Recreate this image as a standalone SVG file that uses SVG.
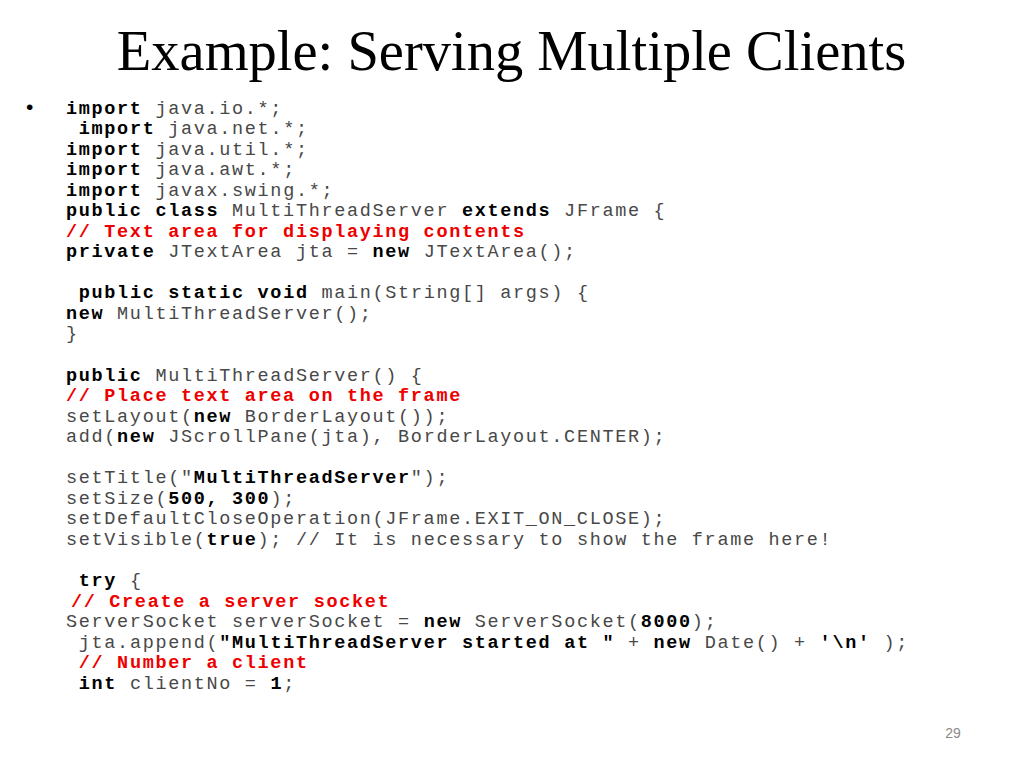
<svg xmlns="http://www.w3.org/2000/svg" width="1024" height="768" viewBox="0 0 1024 768">
<style>
.title{font-family:"Liberation Serif","Times New Roman",serif;font-size:56.5px;fill:#000}
.code{font-family:"Liberation Mono","Courier New",monospace;font-size:18.5px;letter-spacing:1.67px;fill:#484848}
.k{font-weight:bold;fill:#000}
.c{font-weight:bold;fill:#ee0000}
.bullet{font-family:"Liberation Sans",Arial,sans-serif;font-size:21px;fill:#000}
.num{font-family:"Liberation Sans",Arial,sans-serif;font-size:14px;fill:#8a8a8a}
</style>
<rect width="1024" height="768" fill="#fff"/>
<g id="title"><text class="title" x="511.5" y="70" text-anchor="middle">Example: Serving Multiple Clients</text></g>
<g id="bullet"><text class="bullet" x="26" y="114">•</text></g>
<g id="code" class="code" xml:space="preserve">
<text x="66" y="113.5"><tspan class="k">import</tspan> java.io.*;</text>
<text x="78.8" y="134"><tspan class="k">import</tspan> java.net.*;</text>
<text x="66" y="154.6"><tspan class="k">import</tspan> java.util.*;</text>
<text x="66" y="175.1"><tspan class="k">import</tspan> java.awt.*;</text>
<text x="66" y="195.7"><tspan class="k">import</tspan> javax.swing.*;</text>
<text x="66" y="216.2"><tspan class="k">public class</tspan> MultiThreadServer <tspan class="k">extends</tspan> JFrame {</text>
<text x="66" y="236.7" class="c">// Text area for displaying contents</text>
<text x="66" y="257.3"><tspan class="k">private</tspan> JTextArea jta = <tspan class="k">new</tspan> JTextArea();</text>
<text x="78.8" y="298.4"><tspan class="k">public static void</tspan> main(String[] args) {</text>
<text x="66" y="318.9"><tspan class="k">new</tspan> MultiThreadServer();</text>
<text x="66" y="339.4">}</text>
<text x="66" y="380.5"><tspan class="k">public</tspan> MultiThreadServer() {</text>
<text x="66" y="401.1" class="c">// Place text area on the frame</text>
<text x="66" y="421.6">setLayout(<tspan class="k">new</tspan> BorderLayout());</text>
<text x="66" y="442.1">add(<tspan class="k">new</tspan> JScrollPane(jta), BorderLayout.CENTER);</text>
<text x="66" y="483.2">setTitle("<tspan class="k">MultiThreadServer</tspan>");</text>
<text x="66" y="503.8">setSize(<tspan class="k">500, 300</tspan>);</text>
<text x="66" y="524.3">setDefaultCloseOperation(JFrame.EXIT_ON_CLOSE);</text>
<text x="66" y="544.8">setVisible(<tspan class="k">true</tspan>); // It is necessary to show the frame here!</text>
<text x="78.8" y="585.9"><tspan class="k">try</tspan> {</text>
<text x="71" y="606.5" class="c">// Create a server socket</text>
<text x="66" y="627">ServerSocket serverSocket = <tspan class="k">new</tspan> ServerSocket(<tspan class="k">8000</tspan>);</text>
<text x="78.8" y="647.5">jta.append(<tspan class="k">"MultiThreadServer started at "</tspan> + <tspan class="k">new</tspan> Date() + <tspan class="k">'\n'</tspan> );</text>
<text x="78.8" y="668.1" class="c">// Number a client</text>
<text x="78.8" y="688.6"><tspan class="k">int</tspan> clientNo = <tspan class="k">1</tspan>;</text>
</g>
<g id="page-number"><text class="num" x="953" y="738" text-anchor="middle">29</text></g>
</svg>
